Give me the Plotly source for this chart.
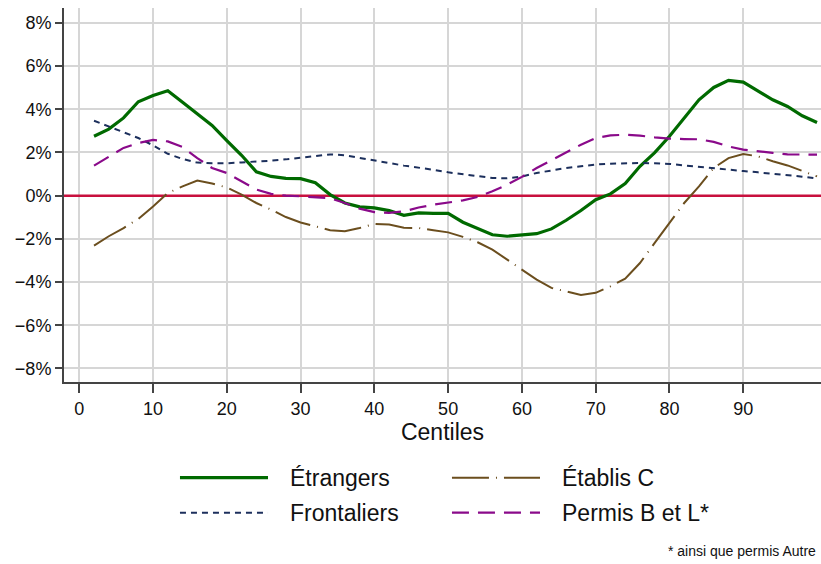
import plotly.graph_objects as go

centiles = list(range(2, 101, 2))

etrangers = [2.75, 3.08, 3.6, 4.35, 4.64, 4.86, 4.32, 3.78, 3.25, 2.55,
             1.87, 1.1, 0.89, 0.8, 0.79, 0.6, 0.05, -0.34, -0.52, -0.57,
             -0.69, -0.91, -0.8, -0.82, -0.82, -1.23, -1.5, -1.81, -1.88, -1.81,
             -1.76, -1.54, -1.14, -0.69, -0.19, 0.08, 0.56, 1.36, 1.99, 2.75,
             3.6, 4.44, 5.01, 5.34, 5.26, 4.83, 4.44, 4.13, 3.7, 3.39]

frontaliers = [3.47, 3.21, 2.95, 2.67, 2.33, 1.94, 1.7, 1.53, 1.5, 1.5,
               1.54, 1.57, 1.62, 1.68, 1.76, 1.85, 1.91, 1.87, 1.74, 1.63,
               1.51, 1.39, 1.3, 1.2, 1.08, 0.99, 0.89, 0.82, 0.8, 0.89,
               1.05, 1.17, 1.28, 1.36, 1.44, 1.48, 1.51, 1.51, 1.5, 1.47,
               1.4, 1.33, 1.25, 1.19, 1.14, 1.08, 1.02, 0.96, 0.88, 0.79]

etablis_c = [-2.31, -1.88, -1.5, -1.08, -0.5, 0.12, 0.43, 0.7, 0.56, 0.38,
             0.05, -0.34, -0.65, -0.99, -1.24, -1.42, -1.6, -1.65, -1.5, -1.31,
             -1.34, -1.49, -1.5, -1.6, -1.7, -1.91, -2.16, -2.5, -2.96, -3.39,
             -3.89, -4.27, -4.44, -4.6, -4.5, -4.2, -3.84, -3.12, -2.19, -1.24,
             -0.34, 0.43, 1.28, 1.74, 1.93, 1.82, 1.59, 1.4, 1.13, 0.89]

permis_b_l = [1.39, 1.82, 2.21, 2.44, 2.58, 2.51, 2.25, 1.74, 1.28, 1.05,
              0.66, 0.28, 0.08, 0.0, -0.03, -0.06, -0.12, -0.34, -0.6, -0.76,
              -0.8, -0.73, -0.55, -0.42, -0.31, -0.22, -0.06, 0.2, 0.51, 0.87,
              1.28, 1.63, 2.0, 2.36, 2.67, 2.79, 2.82, 2.78, 2.7, 2.64,
              2.62, 2.61, 2.49, 2.28, 2.13, 2.04, 1.98, 1.91, 1.89, 1.9]

y_ticks = [-8, -6, -4, -2, 0, 2, 4, 6, 8]
y_labels = ['\u22128%', '\u22126%', '\u22124%', '\u22122%', '0%', '2%', '4%', '6%', '8%']
x_ticks = [0, 10, 20, 30, 40, 50, 60, 70, 80, 90]

X_RANGE = [-2.07, 100.54]
Y_RANGE = [-8.63, 8.69]

FONT = 'Liberation Sans, Arial, sans-serif'

series = [
    ('Étrangers', etrangers, '#006a00', 3.2, 'solid'),
    ('Frontaliers', frontaliers, '#1c2f5c', 2, '6px,5px'),
    ('Établis C', etablis_c, '#6b4e1e', 2, '37px,7px,1px,7px'),
    ('Permis B et L*', permis_b_l, '#8a0a8a', 2.2, '17px,9px'),
]

fig = go.Figure()

# reference line at zero (drawn first so the series sit on top of it)
fig.add_trace(go.Scatter(x=X_RANGE, y=[0, 0], mode='lines', hoverinfo='skip',
                         line=dict(color='#c8103e', width=2.5), showlegend=False))

for name, vals, color, width, dash in series:
    fig.add_trace(go.Scatter(
        x=centiles, y=vals, mode='lines', name=name,
        line=dict(color=color, width=width, dash=dash),
        showlegend=False))

# legend drawn by hand, 2 columns
leg_pos = [(0.1532, -0.2559), (0.1532, -0.3495), (0.5125, -0.2559), (0.5125, -0.3495)]
for (lx, ly), (name, vals, color, width, dash) in zip(leg_pos, series):
    fig.add_shape(type='line', xref='paper', yref='paper',
                  x0=lx, x1=lx + 0.1163, y0=ly, y1=ly,
                  line=dict(color=color, width=width, dash=dash))
    fig.add_annotation(xref='paper', yref='paper', x=lx + 0.1425, y=ly,
                       text=name, showarrow=False, xanchor='left', yanchor='middle',
                       font=dict(size=23, color='#111111', family=FONT))

fig.add_annotation(xref='paper', yref='paper', x=0.9955, y=-0.451,
                   text='* ainsi que permis Autre', showarrow=False,
                   xanchor='right', yanchor='middle',
                   font=dict(size=14, color='#111111', family=FONT))

fig.update_layout(
    width=821, height=564,
    margin=dict(l=64, r=0, t=8, b=182),
    paper_bgcolor='white', plot_bgcolor='white',
    font=dict(family=FONT, color='#111111'),
    xaxis=dict(
        range=X_RANGE, tickvals=x_ticks,
        showgrid=True, gridcolor='#d6d6d6', gridwidth=1.5,
        showline=True, linecolor='#444444', linewidth=2,
        ticks='outside', ticklen=9, tickwidth=1.5, tickcolor='#444444',
        tickfont=dict(size=18), zeroline=False,
        title=dict(text='Centiles', font=dict(size=23), standoff=2),
    ),
    yaxis=dict(
        range=Y_RANGE, tickvals=y_ticks, ticktext=y_labels,
        showgrid=True, gridcolor='#d6d6d6', gridwidth=1.5,
        showline=True, linecolor='#444444', linewidth=2,
        ticks='outside', ticklen=7, tickwidth=1.5, tickcolor='#444444',
        tickfont=dict(size=18), zeroline=False,
    ),
)

# drop the default page margin so the figure fills the window exactly
fig.write_html("out.html", config={'displayModeBar': False},
               post_script="document.body.style.margin='0';document.body.style.overflow='hidden';")
